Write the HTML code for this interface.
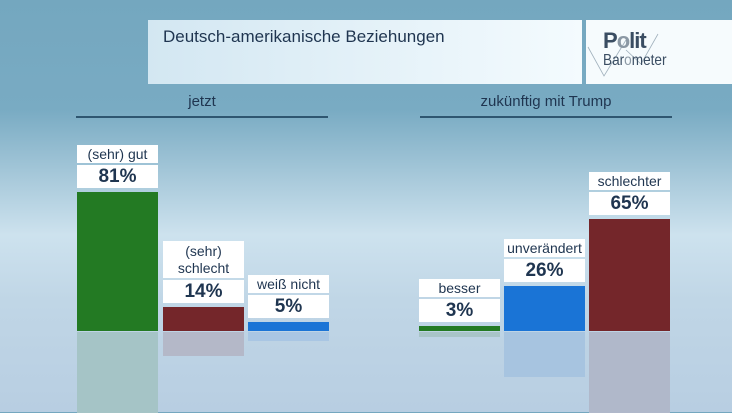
<!DOCTYPE html>
<html><head><meta charset="utf-8"><style>
html,body{margin:0;padding:0;}
body{width:732px;height:412px;overflow:hidden;position:relative;font-family:"Liberation Sans",sans-serif;
background:linear-gradient(180deg,#74a7bf 0px,#79abc3 110px,#a9cadb 180px,#cde2ee 235px,#c0d6e6 300px,#b8cee2 412px);}
.abs{position:absolute;}
.box{position:absolute;background:#fff;color:#1f3550;text-align:center;font-family:"Liberation Sans",sans-serif;}
.lab{font-size:14px;line-height:17px;}
.val{font-size:19px;font-weight:bold;line-height:23px;}
.hdr{color:#1f3550;font-size:15px;text-align:center;font-family:"Liberation Sans",sans-serif;}
</style></head><body>
<div class="abs" style="left:148px;top:20px;width:434px;height:64px;background:linear-gradient(90deg,#d3e7f2,#f4fbfe);"></div>
<div class="abs" style="left:163px;top:27px;font-size:17px;color:#1f3550;">Deutsch-amerikanische Beziehungen</div>
<div class="abs" style="left:586px;top:20px;width:146px;height:64px;background:#f6fbfd;">
<svg width="146" height="64" style="position:absolute;left:0;top:0"><polyline points="2,27 18,56 40,20" fill="none" stroke="#a0b0bc" stroke-width="0.8"/><polyline points="40,30 55,44 72,14" fill="none" stroke="#a0b0bc" stroke-width="0.8"/></svg>
<div style="position:absolute;left:17px;top:8px;font-size:22px;font-weight:bold;color:#3a4d62;letter-spacing:-1px;">P<span style="color:#8b98a4">o</span>lit</div>
<div style="position:absolute;left:17px;top:32px;font-size:16px;color:#3a4d62;transform:scaleX(0.85);transform-origin:left;">Bar<span style="color:#8b98a4">o</span>meter</div>
</div>
<div class="abs hdr" style="left:76px;top:93px;width:252px;">jetzt</div>
<div class="abs" style="left:76px;top:116px;width:252px;height:2px;background:#2f5670;"></div>
<div class="abs hdr" style="left:420px;top:93px;width:252px;">zukünftig mit Trump</div>
<div class="abs" style="left:420px;top:116px;width:252px;height:2px;background:#2f5670;"></div>
<div id="chart"></div>
<script>
const categories=["(sehr) gut","(sehr)<br>schlecht","weiß nicht","besser","unverändert","schlechter"];
const values=[81,14,5,3,26,65];
const valueLabels=["81%","14%","5%","3%","26%","65%"];
const colors=["#237a23","#74262a","#1a74d6","#237a23","#1a74d6","#74262a"];
const reflColors=["#a5c4c6","#b4b8c8","#a9c6e3","#a8c4c8","#a7c4e0","#b0b8ca"];
const slotX=[77,163,248,419,504,589];
const base=331, scale=1.716, bw=81;
function yOf(v){return base-v*scale;}
const c=document.getElementById('chart');
values.forEach((v,i)=>{
  const top=yOf(v), h=base-top;
  const b=document.createElement('div');
  b.className='abs';
  
  
  b.style.cssText=`left:${slotX[i]}px;top:${top}px;width:${bw}px;height:${h}px;background:${colors[i]};`;
  c.appendChild(b);
  const r=document.createElement('div');
  r.className='abs';
  
  
  r.style.cssText=`left:${slotX[i]}px;top:${base+1}px;width:${bw}px;height:${Math.min(h,412-base)}px;background:${reflColors[i]};`;
  c.appendChild(r);
  const vb=document.createElement('div');
  vb.className='box val';
  
  
  vb.style.cssText=`left:${slotX[i]}px;top:${top-27}px;width:${bw}px;height:23px;`;
  vb.textContent=valueLabels[i];
  c.appendChild(vb);
  const two=categories[i].indexOf('<br>')>=0;
  const lh=two?37:18;
  const lb=document.createElement('div');
  lb.className='box lab';
  
  
  lb.style.cssText=`left:${slotX[i]}px;top:${top-29-lh}px;width:${bw}px;height:${lh}px;padding-top:${two?2:1}px;box-sizing:border-box;`;
  lb.innerHTML=categories[i];
  c.appendChild(lb);
});
</script>
</body></html>
